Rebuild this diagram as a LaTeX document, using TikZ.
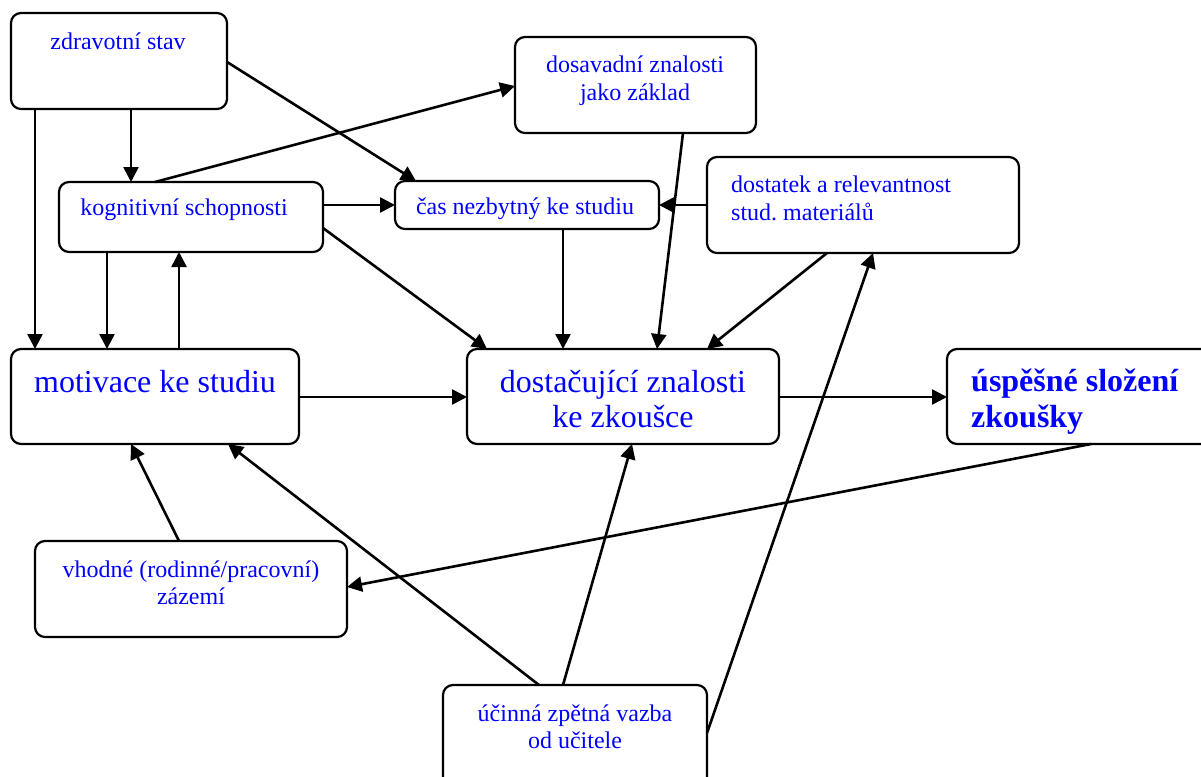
\documentclass[tikz,border=0pt]{standalone}
\usepackage{fontspec}
\setmainfont{Liberation Serif}
\usetikzlibrary{arrows.meta}
\begin{document}
\begin{tikzpicture}[x=1pt,y=-1pt,
 box/.style={draw, line width=2.2pt, rounded corners=10pt, inner sep=0pt, outer sep=0pt, anchor=north west},
 sm/.style={text=blue, font=\fontsize{24pt}{28pt}\selectfont, anchor=base, inner sep=0pt},
 lg/.style={text=blue, font=\fontsize{32pt}{36pt}\selectfont, anchor=base, inner sep=0pt},
 lgb/.style={text=blue, font=\fontsize{32pt}{36pt}\selectfont\bfseries, anchor=base west, inner sep=0pt},
 arr/.style={line width=2.6pt, -{Triangle[length=15pt,width=15pt]}}]
\fill[white] (0,0) rectangle (1201,776);
\clip (0,0) rectangle (1201,776);
% boxes
\node[box, minimum width=216pt, minimum height=96pt] (zd) at (11,13) {};
\node[box, minimum width=264pt, minimum height=70pt] (kog) at (59,182) {};
\node[box, minimum width=241pt, minimum height=96pt] (dos) at (515,37) {};
\node[box, minimum width=264pt, minimum height=48pt] (cas) at (395,181) {};
\node[box, minimum width=312pt, minimum height=96pt] (mat) at (707,157) {};
\node[box, minimum width=288pt, minimum height=95pt] (mot) at (11,349) {};
\node[box, minimum width=312pt, minimum height=95pt] (dk) at (467,349) {};
\node[box, minimum width=280pt, minimum height=95pt] (usp) at (947,349) {};
\node[box, minimum width=312pt, minimum height=96pt] (vh) at (35,541) {};
\node[box, minimum width=264pt, minimum height=110pt] (zv) at (443,685) {};
% texts
\node[sm] (zdT) at (118,49) {zdravotní stav};
\node[sm] (kogT) at (184,215) {kognitivní schopnosti};
\node[sm] (dosT1) at (635,72) {dosavadní znalosti};
\node[sm] (dosT2) at (635,100) {jako základ};
\node[sm] (casT) at (525,214) {čas nezbytný ke studiu};
\node[sm, anchor=base west] (matT1) at (731,192) {dostatek a relevantnost};
\node[sm, anchor=base west] (matT2) at (731,220) {stud.\ materiálů};
\node[lg] (motT) at (155,392) {motivace ke studiu};
\node[lg] (dkT1) at (623,392) {dostačující znalosti};
\node[lg] (dkT2) at (623,427) {ke zkoušce};
\node[lgb] (uspT1) at (971,391) {úspěšné složení};
\node[lgb] (uspT2) at (971,427) {zkoušky};
\node[sm] (vhT1) at (191,577) {vhodné (rodinné/pracovní)};
\node[sm] (vhT2) at (191,604) {zázemí};
\node[sm] (zvT1) at (575,721) {účinná zpětná vazba};
\node[sm] (zvT2) at (575,748) {od učitele};
% arrows
\draw[arr] ([xshift=24pt]zd.south west) -- ([xshift=24pt]mot.north west);
\draw[arr] ([xshift=120pt]zd.south west) -- ([xshift=72pt]kog.north west);
\draw[arr] ([yshift=-49pt]zd.north east) -- ([xshift=21pt]cas.north west);
\draw[arr] ([xshift=96pt]kog.north west) -- ([yshift=-49pt]dos.north west);
\draw[arr] ([yshift=-23pt]kog.north east) -- ([yshift=-24pt]cas.north west);
\draw[arr] ([yshift=-46pt]kog.north east) -- ([xshift=20pt]dk.north west);
\draw[arr] ([xshift=48pt]kog.south west) -- ([xshift=96pt]mot.north west);
\draw[arr] ([xshift=168pt]mot.north west) -- ([xshift=120pt]kog.south west);
\draw[arr] ([xshift=168pt]cas.south west) -- ([xshift=96pt]dk.north west);
\draw[arr] ([xshift=168pt]dos.south west) -- ([xshift=190pt]dk.north west);
\draw[arr] ([yshift=-48pt]mat.north west) -- ([yshift=-24pt]cas.north east);
\draw[arr] ([xshift=120pt]mat.south west) -- ([xshift=240pt]dk.north west);
\draw[arr] ([yshift=-48pt]mot.north east) -- ([yshift=-48pt]dk.north west);
\draw[arr] ([yshift=-48pt]dk.north east) -- ([yshift=-48pt]usp.north west);
\draw[arr] ([xshift=144pt]usp.south west) -- ([yshift=-46pt]vh.north east);
\draw[arr] ([xshift=144pt]vh.north west) -- ([xshift=120pt]mot.south west);
\draw[arr] ([xshift=96pt]zv.north west) -- ([xshift=217pt]mot.south west);
\draw[arr] ([xshift=120pt]zv.north west) -- ([xshift=165pt]dk.south west);
\draw[arr] ([yshift=-48pt]zv.north east) -- ([xshift=166pt]mat.south west);
\end{tikzpicture}
\end{document}
